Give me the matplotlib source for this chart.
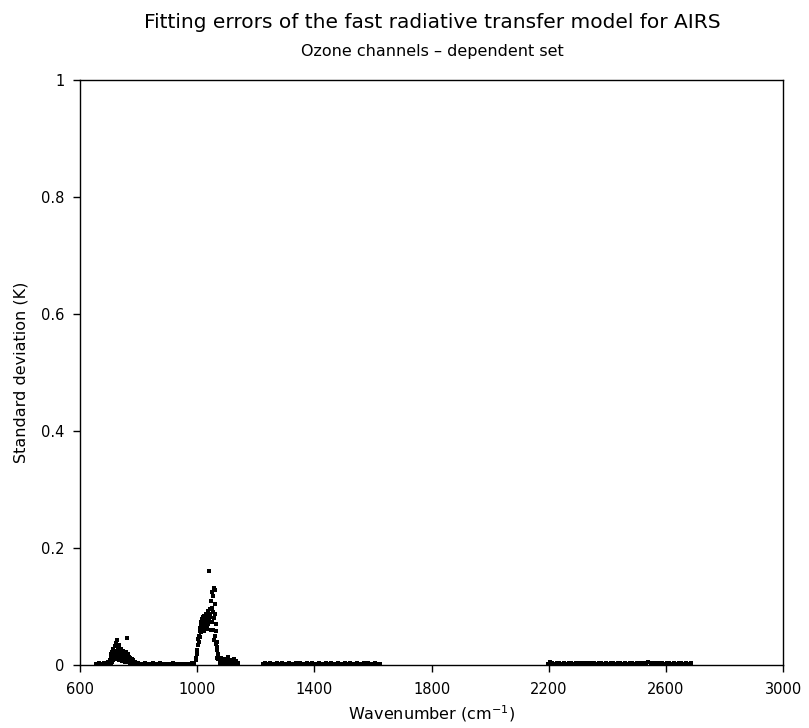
import matplotlib
matplotlib.use('Agg')  # no display
import matplotlib.pyplot as plt

plt.rcParams['font.family'] = ['DejaVu Sans']

## Channel data (wavenumber in cm-1, std dev in K)

# quiet channels below the 700 cm-1 bump
wn_low = [656, 660, 664, 668, 672, 676, 680, 684, 688, 692, 696, 700]
sd_low = [0.002, 0.001, 0.003, 0.002, 0.001, 0.002, 0.003, 0.004, 0.002, 0.003, 0.005, 0.006]

# small bump 700-795 cm-1
wn_bump = [702, 704, 706, 708, 710, 712, 714, 716, 718, 720, 722, 724, 726, 728,
           730, 732, 734, 736, 738, 740, 742, 744, 746, 748, 750, 752, 754, 756,
           758, 760, 762, 764, 766, 768, 770, 772, 774, 776, 778, 780, 784, 788, 792,
           704, 708, 712, 716, 720, 724, 728, 732, 736, 740, 744, 748, 752, 756,
           760, 764, 768, 772, 776]
sd_bump = [0.008, 0.012, 0.018, 0.010, 0.022, 0.015, 0.028, 0.020, 0.032, 0.024,
           0.038, 0.018, 0.043, 0.026, 0.030, 0.016, 0.034, 0.022, 0.012, 0.027,
           0.019, 0.014, 0.024, 0.010, 0.020, 0.016, 0.012, 0.022, 0.008, 0.046,
           0.015, 0.018, 0.010, 0.014, 0.008, 0.012, 0.006, 0.010, 0.005, 0.008,
           0.004, 0.006, 0.003,
           0.004, 0.006, 0.008, 0.010, 0.012, 0.011, 0.014, 0.009, 0.013, 0.008,
           0.007, 0.012, 0.006, 0.009, 0.011, 0.005, 0.007, 0.004, 0.003]

# quiet window 795-985 cm-1
wn_win = [796, 802, 808, 814, 820, 826, 832, 838, 844, 850, 856, 862, 868, 874,
          880, 886, 892, 898, 904, 910, 916, 922, 928, 934, 940, 946, 952, 958,
          964, 970, 976, 982]
sd_win = [0.003, 0.002, 0.001, 0.002, 0.003, 0.001, 0.002, 0.002, 0.001, 0.003,
          0.002, 0.001, 0.002, 0.003, 0.002, 0.001, 0.002, 0.002, 0.001, 0.002,
          0.003, 0.001, 0.002, 0.001, 0.002, 0.002, 0.001, 0.002, 0.001, 0.002,
          0.002, 0.003]

# 9.6 micron ozone band
wn_o3 = [986, 990, 994, 996, 998, 1000, 1002, 1004, 1006, 1008, 1010, 1012, 1014,
         1016, 1018, 1020, 1022, 1024, 1026, 1028, 1030, 1032, 1034, 1036, 1038,
         1040, 1042, 1044, 1046, 1048, 1050, 1052, 1054, 1056, 1058, 1060, 1062,
         1064, 1066, 1068, 1070,
         1006, 1009, 1012, 1015, 1018, 1021, 1024, 1027, 1030, 1033, 1036, 1039,
         1042, 1045, 1011, 1017, 1023, 1029, 1035, 1041,
         1051, 1053, 1055, 1057, 1059, 1061, 1063, 1065, 1067, 1069]
sd_o3 = [0.002, 0.004, 0.008, 0.012, 0.018, 0.026, 0.035, 0.044, 0.050, 0.058,
         0.064, 0.070, 0.074, 0.078, 0.072, 0.082, 0.076, 0.084, 0.068, 0.080,
         0.088, 0.062, 0.078, 0.092, 0.070, 0.160, 0.082, 0.096, 0.060, 0.110,
         0.074, 0.125, 0.090, 0.132, 0.080, 0.105, 0.050, 0.070, 0.030, 0.040,
         0.018,
         0.040, 0.048, 0.056, 0.062, 0.066, 0.070, 0.064, 0.072, 0.076, 0.068,
         0.074, 0.080, 0.088, 0.084, 0.060, 0.068, 0.058, 0.066, 0.070, 0.074,
         0.098, 0.060, 0.118, 0.042, 0.128, 0.088, 0.036, 0.058, 0.025, 0.012]

# tail of the ozone band
wn_tail = [1072, 1076, 1080, 1084, 1088, 1092, 1096, 1100, 1104, 1108, 1112, 1116,
           1120, 1124, 1128, 1132, 1136, 1140, 1078, 1090, 1102, 1114, 1126]
sd_tail = [0.010, 0.006, 0.012, 0.004, 0.008, 0.005, 0.010, 0.007, 0.014, 0.006,
           0.009, 0.004, 0.008, 0.011, 0.005, 0.007, 0.004, 0.003, 0.003, 0.002,
           0.003, 0.002, 0.002]

# 1220-1630 cm-1 channels
wn_mid = [1224, 1232, 1240, 1248, 1256, 1264, 1272, 1280, 1288, 1296, 1304, 1312,
          1320, 1328, 1336, 1344, 1352, 1360, 1368, 1376, 1384, 1392, 1400, 1408,
          1416, 1424, 1432, 1440, 1448, 1456, 1464, 1472, 1480, 1488, 1496, 1504,
          1512, 1520, 1528, 1536, 1544, 1552, 1560, 1568, 1576, 1584, 1592, 1600,
          1608, 1616, 1624]
sd_mid = [0.002, 0.003, 0.001, 0.004, 0.002, 0.001, 0.003, 0.002, 0.004, 0.001,
          0.002, 0.003, 0.002, 0.001, 0.004, 0.002, 0.003, 0.001, 0.002, 0.003,
          0.002, 0.004, 0.001, 0.002, 0.003, 0.002, 0.001, 0.003, 0.002, 0.004,
          0.002, 0.001, 0.003, 0.002, 0.001, 0.003, 0.002, 0.004, 0.001, 0.002,
          0.003, 0.002, 0.001, 0.003, 0.002, 0.004, 0.001, 0.002, 0.003, 0.002,
          0.001]

# shortwave channels
wn_sw = [2196, 2204, 2212, 2220, 2228, 2236, 2244, 2252, 2260, 2268, 2276, 2284,
         2292, 2300, 2308, 2316, 2324, 2332, 2340, 2348, 2356, 2364, 2372, 2380,
         2388, 2396, 2404, 2412, 2420, 2428, 2436, 2444, 2452, 2460, 2468, 2476,
         2484, 2492, 2500, 2508, 2516, 2524, 2532, 2540, 2548, 2556, 2564, 2572,
         2580, 2588, 2596, 2604, 2612, 2620, 2628, 2636, 2644, 2652, 2660, 2668,
         2676, 2684]
sd_sw = [0.002, 0.006, 0.003, 0.002, 0.004, 0.003, 0.002, 0.004, 0.002, 0.003,
         0.004, 0.002, 0.003, 0.002, 0.004, 0.003, 0.002, 0.003, 0.004, 0.002,
         0.003, 0.002, 0.004, 0.003, 0.002, 0.003, 0.002, 0.004, 0.003, 0.002,
         0.003, 0.004, 0.002, 0.003, 0.002, 0.004, 0.003, 0.002, 0.003, 0.002,
         0.004, 0.003, 0.002, 0.005, 0.003, 0.002, 0.003, 0.004, 0.002, 0.003,
         0.002, 0.004, 0.003, 0.002, 0.003, 0.002, 0.004, 0.003, 0.002, 0.003,
         0.002, 0.003]

x_ticks = [600, 1000, 1400, 1800, 2200, 2600, 3000]
y_ticks = [0, 0.2, 0.4, 0.6, 0.8, 1]
y_labels = ['0', '0.2', '0.4', '0.6', '0.8', '1']

fig = plt.figure(figsize=(8.09, 7.28), dpi=100)
ax = fig.add_axes([0.099, 0.0865, 0.869, 0.8035])

for wn, sd in [(wn_low, sd_low), (wn_bump, sd_bump), (wn_win, sd_win),
               (wn_o3, sd_o3), (wn_tail, sd_tail), (wn_mid, sd_mid), (wn_sw, sd_sw)]:
    ax.plot(wn, sd, 's', color='black', ms=2.3, mew=0)

ax.set_xlim(600, 3000)
ax.set_ylim(0, 1)
ax.set_xticks(x_ticks)
ax.set_yticks(y_ticks)
ax.set_yticklabels(y_labels)
ax.tick_params(axis='x', direction='out', length=5, width=1, labelsize=10.5, pad=7)
ax.tick_params(axis='y', direction='out', length=5, width=1, labelsize=10.5, pad=6)
for s in ax.spines.values():
    s.set_linewidth(1)

ax.set_xlabel('Wavenumber (cm$^{-1}$)', fontsize=11.5, labelpad=5)
ax.set_ylabel('Standard deviation (K)', fontsize=11.5, labelpad=9)

fig.text(0.534, 0.969, 'Fitting errors of the fast radiative transfer model for AIRS',
         ha='center', va='center', fontsize=14.5)
fig.text(0.534, 0.929, 'Ozone channels \u2013 dependent set',
         ha='center', va='center', fontsize=11.5)

plt.savefig('out.png', dpi=100)
